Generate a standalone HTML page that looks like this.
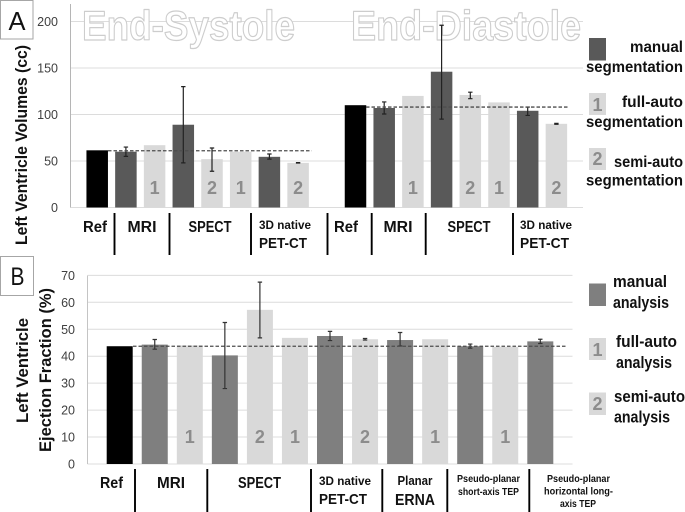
<!DOCTYPE html>
<html lang="en">
<head>
<meta charset="utf-8">
<title>Left ventricle volumes and ejection fraction</title>
<style>
html,body{margin:0;padding:0;background:#fff;width:685px;height:512px;overflow:hidden}
svg{display:block;font-family:"Liberation Sans",sans-serif;filter:blur(0.35px)}
.b{font-weight:bold;fill:#111}
.tick{font-size:12.5px;fill:#404040;text-anchor:end}
.title{font-size:42px;font-weight:bold;fill:#fff;stroke:#cdcdcd;stroke-width:1.2;stroke-linejoin:round}
.sep{stroke:#000;stroke-width:1.9}
.box{fill:#fff;stroke:#a6a6a6;stroke-width:1}
.num{font-weight:bold;font-size:18px;fill:#8c8c8c;text-anchor:middle}
</style>
</head>
<body>
<svg id="chart" width="685" height="512" viewBox="0 0 685 512" xmlns="http://www.w3.org/2000/svg">
  <g id="gridA"></g>
  <g id="gridB"></g>
  <line x1="70.5" y1="4" x2="70.5" y2="207.5" stroke="#b5b5b5" stroke-width="1"/>
  <line x1="87.5" y1="275.5" x2="87.5" y2="464" stroke="#c4c4c4" stroke-width="1"/>

  <text class="title" x="82" y="40" textLength="213" lengthAdjust="spacingAndGlyphs">End-Systole</text>
  <text class="title" x="351" y="40" textLength="230" lengthAdjust="spacingAndGlyphs">End-Diastole</text>

  <g id="marksA"></g>
  <g id="marksB"></g>

  <rect class="box" x="0.5" y="0.5" width="32.5" height="38.5"/>
  <text x="17" y="30" font-size="26" text-anchor="middle" fill="#111" textLength="17" lengthAdjust="spacingAndGlyphs">A</text>
  <rect class="box" x="0.5" y="256.5" width="33" height="39"/>
  <text x="17.500" y="285" font-size="25" text-anchor="middle" fill="#111" textLength="14" lengthAdjust="spacingAndGlyphs">B</text>

  <text class="b" transform="translate(27,245) rotate(-90)" font-size="17" textLength="200" lengthAdjust="spacingAndGlyphs">Left Ventricle Volumes (cc)</text>
  <text class="b" transform="translate(28,423) rotate(-90)" font-size="17" textLength="105" lengthAdjust="spacingAndGlyphs">Left Ventricle</text>
  <text class="b" transform="translate(51,452) rotate(-90)" font-size="17" textLength="164" lengthAdjust="spacingAndGlyphs">Ejection Fraction (%)</text>

  <g>
    <text class="b" x="95" y="232" font-size="15.500" text-anchor="middle" textLength="24" lengthAdjust="spacingAndGlyphs">Ref</text>
    <text class="b" x="142" y="232" font-size="15.500" text-anchor="middle" textLength="29" lengthAdjust="spacingAndGlyphs">MRI</text>
    <text class="b" x="210" y="232" font-size="15.500" text-anchor="middle" textLength="43" lengthAdjust="spacingAndGlyphs">SPECT</text>
    <text class="b" x="259" y="229" font-size="12" textLength="52" lengthAdjust="spacingAndGlyphs">3D native</text>
    <text class="b" x="259" y="248" font-size="15" textLength="48" lengthAdjust="spacingAndGlyphs">PET-CT</text>
    <text class="b" x="346" y="232" font-size="15.500" text-anchor="middle" textLength="24" lengthAdjust="spacingAndGlyphs">Ref</text>
    <text class="b" x="398" y="232" font-size="15.500" text-anchor="middle" textLength="29" lengthAdjust="spacingAndGlyphs">MRI</text>
    <text class="b" x="469" y="232" font-size="15.500" text-anchor="middle" textLength="43" lengthAdjust="spacingAndGlyphs">SPECT</text>
    <text class="b" x="520" y="229" font-size="12" textLength="52" lengthAdjust="spacingAndGlyphs">3D native</text>
    <text class="b" x="520" y="248" font-size="15" textLength="49" lengthAdjust="spacingAndGlyphs">PET-CT</text>
  </g>
  <g>
    <line class="sep" x1="114.5" y1="213" x2="114.5" y2="255"/>
    <line class="sep" x1="169.5" y1="213" x2="169.5" y2="255"/>
    <line class="sep" x1="251" y1="213" x2="251" y2="255"/>
    <line class="sep" x1="327.5" y1="213" x2="327.5" y2="255"/>
    <line class="sep" x1="371.7" y1="213" x2="371.7" y2="255"/>
    <line class="sep" x1="425.7" y1="213" x2="425.7" y2="255"/>
    <line class="sep" x1="513" y1="213" x2="513" y2="255"/>
  </g>

  <g>
    <text class="b" x="111.5" y="488" font-size="15.500" text-anchor="middle" textLength="23" lengthAdjust="spacingAndGlyphs">Ref</text>
    <text class="b" x="171" y="488" font-size="15.500" text-anchor="middle" textLength="28" lengthAdjust="spacingAndGlyphs">MRI</text>
    <text class="b" x="259.5" y="488" font-size="15.500" text-anchor="middle" textLength="43" lengthAdjust="spacingAndGlyphs">SPECT</text>
    <text class="b" x="319" y="485" font-size="12" textLength="52" lengthAdjust="spacingAndGlyphs">3D native</text>
    <text class="b" x="319" y="504" font-size="15" textLength="48" lengthAdjust="spacingAndGlyphs">PET-CT</text>
    <text class="b" x="415" y="485" font-size="13" text-anchor="middle" textLength="35" lengthAdjust="spacingAndGlyphs">Planar</text>
    <text class="b" x="415" y="505" font-size="16" text-anchor="middle" textLength="40" lengthAdjust="spacingAndGlyphs">ERNA</text>
    <text class="b" x="488.5" y="482" font-size="10" text-anchor="middle" textLength="63" lengthAdjust="spacingAndGlyphs">Pseudo-planar</text>
    <text class="b" x="488.5" y="495" font-size="10" text-anchor="middle" textLength="61" lengthAdjust="spacingAndGlyphs">short-axis TEP</text>
    <text class="b" x="578.5" y="482" font-size="10" text-anchor="middle" textLength="63" lengthAdjust="spacingAndGlyphs">Pseudo-planar</text>
    <text class="b" x="578.5" y="494.5" font-size="10" text-anchor="middle" textLength="69" lengthAdjust="spacingAndGlyphs">horizontal long-</text>
    <text class="b" x="578" y="507" font-size="10" text-anchor="middle" textLength="36" lengthAdjust="spacingAndGlyphs">axis TEP</text>
  </g>
  <g>
    <line class="sep" x1="135" y1="469" x2="135" y2="512"/>
    <line class="sep" x1="207.3" y1="469" x2="207.3" y2="512"/>
    <line class="sep" x1="311" y1="469" x2="311" y2="512"/>
    <line class="sep" x1="382.3" y1="469" x2="382.3" y2="512"/>
    <line class="sep" x1="447.3" y1="469" x2="447.3" y2="512"/>
    <line class="sep" x1="529.3" y1="469" x2="529.3" y2="512"/>
  </g>

  <g>
    <rect x="589" y="38" width="17" height="22.5" fill="#595959"/>
    <text class="b" x="683" y="52" font-size="15.500" text-anchor="end" textLength="53" lengthAdjust="spacingAndGlyphs">manual</text>
    <text class="b" x="683" y="72" font-size="15.500" text-anchor="end" textLength="97" lengthAdjust="spacingAndGlyphs">segmentation</text>
    <rect x="589" y="93" width="17" height="22" fill="#d9d9d9"/>
    <text class="num" x="597.5" y="111">1</text>
    <text class="b" x="683" y="107" font-size="15.500" text-anchor="end" textLength="61" lengthAdjust="spacingAndGlyphs">full-auto</text>
    <text class="b" x="683" y="127" font-size="15.500" text-anchor="end" textLength="97" lengthAdjust="spacingAndGlyphs">segmentation</text>
    <rect x="589" y="148" width="17" height="22" fill="#d9d9d9"/>
    <text class="num" x="597.5" y="165">2</text>
    <text class="b" x="683" y="167" font-size="15.500" text-anchor="end" textLength="69" lengthAdjust="spacingAndGlyphs">semi-auto</text>
    <text class="b" x="683" y="185.500" font-size="15.500" text-anchor="end" textLength="97" lengthAdjust="spacingAndGlyphs">segmentation</text>
  </g>

  <g>
    <rect x="589" y="283.500" width="17" height="22.500" fill="#7f7f7f"/>
    <text class="b" x="613" y="287" font-size="16.500" textLength="54" lengthAdjust="spacingAndGlyphs">manual</text>
    <text class="b" x="613" y="308" font-size="16.500" textLength="56" lengthAdjust="spacingAndGlyphs">analysis</text>
    <rect x="589" y="338" width="17" height="22" fill="#d9d9d9"/>
    <text class="num" x="597.5" y="356">1</text>
    <text class="b" x="616" y="347" font-size="16.500" textLength="61" lengthAdjust="spacingAndGlyphs">full-auto</text>
    <text class="b" x="616" y="368" font-size="16.500" textLength="56" lengthAdjust="spacingAndGlyphs">analysis</text>
    <rect x="589" y="392.500" width="17" height="22.500" fill="#d9d9d9"/>
    <text class="num" x="597.5" y="410">2</text>
    <text class="b" x="614" y="402" font-size="16.500" textLength="71" lengthAdjust="spacingAndGlyphs">semi-auto</text>
    <text class="b" x="614" y="422.500" font-size="16.500" textLength="56" lengthAdjust="spacingAndGlyphs">analysis</text>
  </g>
</svg>

<script>
/* Panel A: left ventricle volumes (cc). Index 8 is the empty gap between End-Systole and End-Diastole. */
const volumeCategories = ['Ref','MRI','MRI','SPECT','SPECT','SPECT','PET-CT','PET-CT','','Ref','MRI','MRI','SPECT','SPECT','SPECT','PET-CT','PET-CT'];
const volumeTypes = ['ref','manual','auto','manual','auto','auto','manual','auto','','ref','manual','auto','manual','auto','auto','manual','auto'];
const volumeValues = [61.5,60,67,89,52,60,54.5,48,null,110,107,120,146,121,113,104,90];
const volumeErrLow = [null,55,null,48,39,null,52,47.8,null,null,100.5,null,95,117,null,99,89.5];
const volumeErrHigh = [null,65,null,130,64,null,57.5,48.3,null,null,113.5,null,196,124,null,108,90.5];
const volumeMarkers = ['','','1','','2','1','','2','','','','1','','2','1','','2'];
const volumeTicks = [0,50,100,150,200];
const volumeRefES = 61;
const volumeRefED = 108;

/* Panel B: ejection fraction (%). */
const efCategories = ['Ref','MRI','MRI','SPECT','SPECT','SPECT','PET-CT','PET-CT','ERNA','ERNA','TEP short','TEP short','TEP long'];
const efTypes = ['ref','manual','auto','manual','auto','auto','manual','auto','manual','auto','manual','auto','manual'];
const efValues = [43.7,44.3,44,40.3,57.2,46.8,47.5,46.3,46,46.3,43.7,43.5,45.5];
const efErrLow = [null,42.6,null,28,46.8,null,45.8,46,43.8,null,43,null,44.7];
const efErrHigh = [null,46.2,null,52.5,67.5,null,49.2,46.6,48.8,null,44.5,null,46.3];
const efMarkers = ['','','1','','2','1','','2','','1','','1',''];
const efTicks = [0,10,20,30,40,50,60,70];
const efRef = 43.7;

const NS = 'http://www.w3.org/2000/svg';
function mk(tag, parent, attrs) {
  const el = document.createElementNS(NS, tag);
  for (const k in attrs) el.setAttribute(k, attrs[k]);
  parent.appendChild(el);
  return el;
}

/* Axis functions */
function yA(v) { return 207.5 - v * 0.93; }
function xA(i) { return 97.2 + i * 28.7; }
function yB(v) { return 464 - v * 2.695; }
function xB(i) { return 119.7 + i * 35.05; }

function drawGrid(group, ticks, yFn, x1, x2, labelX) {
  ticks.forEach(function (t) {
    const line = mk('line', group, {x1: x1, x2: x2, y1: yFn(t), y2: yFn(t), stroke: '#dcdcdc', 'stroke-width': 1});
    
    
    const label = mk('text', group, {x: labelX, y: yFn(t) + 4.5, class: 'tick'});
    
    
    label.textContent = t;
  });
}

function drawBars(group, values, types, low, high, markers, xFn, yFn, w, manualColor, numDrop, errColor) {
  values.forEach(function (v, i) {
    if (v === null) return;
    const fill = types[i] === 'ref' ? '#000000' : types[i] === 'manual' ? manualColor : '#d9d9d9';
    const x = xFn(i);
    const bar = mk('rect', group, {x: x - w / 2, y: yFn(v), width: w, height: yFn(0) - yFn(v), fill: fill});
    
    
    if (markers[i]) {
      const num = mk('text', group, {x: x, y: yFn(0) - numDrop, class: 'num'});
      
      
      num.textContent = markers[i];
    }
  });
  values.forEach(function (v, i) {
    if (low[i] === null || low[i] === undefined) return;
    const x = xFn(i);
    const err = mk('path', group, {
      d: 'M' + (x - 2.2) + ' ' + yFn(high[i]) + 'H' + (x + 2.2) +
         'M' + x + ' ' + yFn(high[i]) + 'V' + yFn(low[i]) +
         'M' + (x - 2.2) + ' ' + yFn(low[i]) + 'H' + (x + 2.2),
      fill: 'none', stroke: errColor, 'stroke-width': 1.2
    });
    
    
  });
}

function drawRef(group, value, yFn, x1, x2) {
  const line = mk('line', group, {x1: x1, x2: x2, y1: yFn(value), y2: yFn(value), stroke: '#4d4d4d', 'stroke-width': 1.3, 'stroke-dasharray': '3.5 2'});
  
  
}

const gridA = document.getElementById('gridA');
const gridB = document.getElementById('gridB');
const marksA = document.getElementById('marksA');
const marksB = document.getElementById('marksB');

drawGrid(gridA, volumeTicks, yA, 70.5, 583, 58);
drawGrid(gridB, efTicks, yB, 87.5, 572.5, 75);
drawBars(marksA, volumeValues, volumeTypes, volumeErrLow, volumeErrHigh, volumeMarkers, xA, yA, 21.5, '#595959', 13.5, '#222');
drawBars(marksB, efValues, efTypes, efErrLow, efErrHigh, efMarkers, xB, yB, 26, '#7f7f7f', 21, '#333');
drawRef(marksA, volumeRefES, yA, 108, 311.7);
drawRef(marksA, volumeRefED, yA, 366, 567.7);
drawRef(marksB, efRef, yB, 133, 566.7);
</script>
</body>
</html>
